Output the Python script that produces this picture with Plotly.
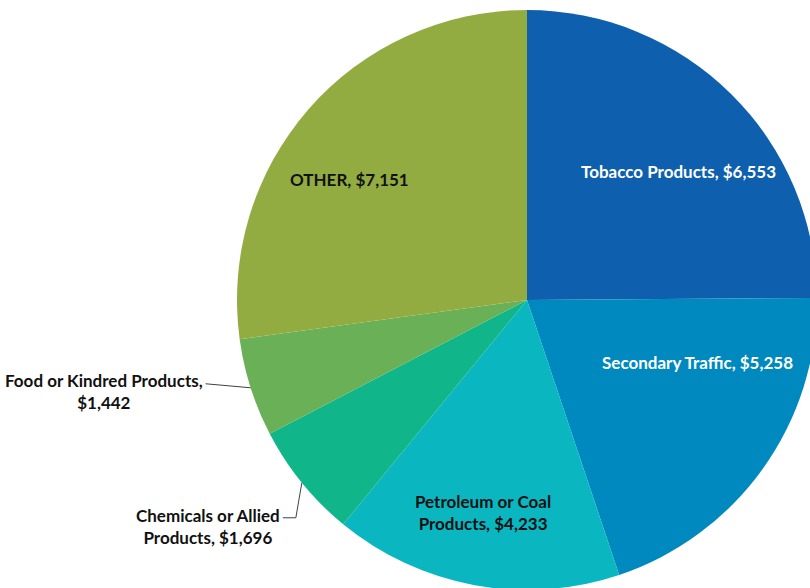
import math
import plotly.graph_objects as go

# Freight revenue by commodity group (thousands of dollars)
categories = [
    "Tobacco Products",
    "Secondary Traffic",
    "Petroleum or Coal Products",
    "Chemicals or Allied Products",
    "Food or Kindred Products",
    "OTHER",
]
values = [6553, 5258, 4233, 1696, 1442, 7151]

# Display names with line breaks for the longer labels
display_names = [
    "Tobacco Products",
    "Secondary Traffic",
    "Petroleum or Coal<br>Products",
    "Chemicals or Allied<br>Products",
    "Food or Kindred Products",
    "OTHER",
]
value_separators = [", ", ", ", ", ", ", ", ",<br>", ", "]

colors = ["#0E5FAD", "#0089BE", "#0AB6C0", "#10B68A", "#6AB057", "#93AC41"]
text_colors = ["#FFFFFF", "#FFFFFF", "#111111", "#111111", "#111111", "#111111"]

# Label placement: inside labels sit at (radius fraction, angle shift from slice middle);
# outside labels hang off a leader line that bends at an elbow point.
inside_place = {0: (0.683, 4.9), 1: (0.628, -15.3), 2: (0.75, 1.3), 5: (0.74, -7.0)}
outside_place = {
    # index: (elbow dx, elbow dy from slice edge, line end dx, label y offset)
    3: (-6, 35, -19, -15),
    4: (-45, -4, -45, -16),
}

FONT = "Lato"
FSIZE = 17

W, H = 830, 600
cx, cy, r = 527, 300, 290


def px(x):
    return x / W


def py(y):
    return 1 - y / H


total = sum(values)
mid_angles = []
acc = 0.0
for v in values:
    mid_angles.append((acc + v / 2) / total * 360.0)
    acc += v


def polar(frac, deg):
    a = math.radians(deg)
    return cx + frac * r * math.sin(a), cy - frac * r * math.cos(a)


texts = [f"<b>{n}{s}${v:,}</b>" for n, s, v in zip(display_names, value_separators, values)]

fig = go.Figure(
    go.Pie(
        labels=categories,
        values=values,
        textinfo="none",
        hoverinfo="label+value+percent",
        sort=False,
        direction="clockwise",
        rotation=0,
        marker=dict(colors=colors, line=dict(width=0)),
        domain=dict(x=[px(cx - r), px(cx + r)], y=[py(cy + r), py(cy - r)]),
        showlegend=False,
    )
)

annotations = []
shapes = []
for i, txt in enumerate(texts):
    if i in inside_place:
        frac, shift = inside_place[i]
        x, y = polar(frac, mid_angles[i] + shift)
        annotations.append(
            dict(
                x=px(x), y=py(y), xref="paper", yref="paper",
                text=txt, showarrow=False, align="center",
                xanchor="center", yanchor="middle",
                font=dict(family=FONT, size=FSIZE, color=text_colors[i]),
            )
        )
    else:
        ex, ey, end_dx, label_dy = outside_place[i]
        x0, y0 = polar(1.0, mid_angles[i])
        x1, y1 = x0 + ex, y0 + ey
        x2 = x0 + end_dx if end_dx != ex else x1
        shapes.append(
            dict(
                type="path", xref="paper", yref="paper",
                path=f"M {px(x0)} {py(y0)} L {px(x1)} {py(y1)} L {px(x2)} {py(y1)}",
                line=dict(color="#404040", width=1),
            )
        )
        annotations.append(
            dict(
                x=px(x2 - 1), y=py(y1 + label_dy), xref="paper", yref="paper",
                text=txt, showarrow=False, align="center",
                xanchor="right", yanchor="top",
                font=dict(family=FONT, size=FSIZE, color=text_colors[i]),
            )
        )

fig.update_layout(
    width=W,
    height=H,
    margin=dict(l=0, r=0, t=0, b=0, pad=0),
    paper_bgcolor="#FFFFFF",
    plot_bgcolor="#FFFFFF",
    annotations=annotations,
    shapes=shapes,
)

fig.write_html(
    "out.html",
    post_script="document.documentElement.style.overflow='hidden';document.body.style.overflow='hidden';",
)
